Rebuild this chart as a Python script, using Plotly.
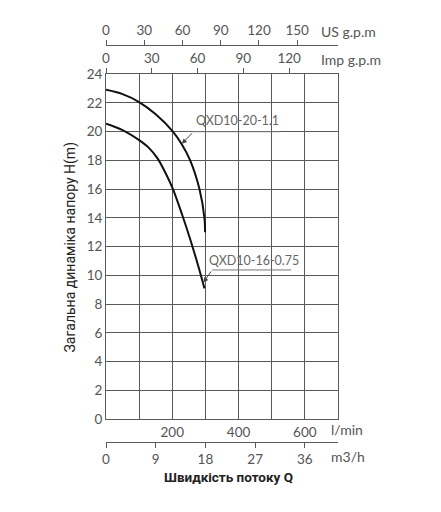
import plotly.graph_objects as go

# Flow in l/min, head in m
q_11 = [0, 50, 100, 150, 202, 229, 254, 282, 297, 299]
h_11 = [22.9, 22.6, 22.05, 21.2, 20.0, 19.1, 18.0, 16.0, 14.0, 13.0]
q_075 = [0, 50, 100, 130, 155, 180, 202, 230, 255, 279, 297]
h_075 = [20.55, 20.1, 19.4, 18.85, 18.15, 17.1, 16.0, 14.2, 12.45, 10.6, 9.1]

names = ["QXD10-20-1.1", "QXD10-16-0.75"]

lmin_ticks = [100, 200, 300, 400, 500, 600]
lmin_text = ["", "200", "", "400", "", "600"]
m3h_ticks = [0, 9, 18, 27, 36]
us_ticks = [0, 30, 60, 90, 120, 150]
imp_ticks = [0, 30, 60, 90, 120]
h_ticks = list(range(0, 25, 2))

FONT = "Lato"
TICKC = "#555555"
GRID = "#5a5a5a"

fig = go.Figure()
fig.add_trace(go.Scatter(x=q_11, y=h_11, mode="lines", name=names[0],
                         line=dict(color="#111111", width=2, shape="spline"),
                         showlegend=False))
fig.add_trace(go.Scatter(x=q_075, y=h_075, mode="lines", name=names[1],
                         line=dict(color="#111111", width=2, shape="spline"),
                         showlegend=False))
# dummy traces to materialise secondary axes
for ax in ["x2", "x3", "x4"]:
    fig.add_trace(go.Scatter(x=[0], y=[None], xaxis=ax, yaxis="y",
                             mode="markers", showlegend=False, hoverinfo="skip"))

tickfont = dict(family=FONT, size=13.5, color=TICKC)
ydom = [(442 - 419.3) / 397, (442 - 74) / 397]

fig.update_layout(
    width=433, height=504,
    margin=dict(l=98, r=103, t=37, b=70),
    paper_bgcolor="white", plot_bgcolor="white",
    xaxis=dict(range=[0, 700], tickvals=lmin_ticks, ticktext=lmin_text,
               showgrid=True, gridcolor=GRID, gridwidth=1,
               showline=True, linecolor=GRID, linewidth=1, mirror=True,
               ticks="", zeroline=False, tickfont=tickfont, anchor="y"),
    yaxis=dict(range=[0, 24], tickvals=h_ticks, domain=ydom,
               showgrid=True, gridcolor=GRID, gridwidth=1,
               showline=True, linecolor=GRID, linewidth=1, mirror=True,
               ticks="", zeroline=False, tickfont=tickfont),
    xaxis2=dict(range=[0, 42], tickvals=m3h_ticks, overlaying="x",
                anchor="free", position=0, side="bottom",
                showgrid=False, showline=True, linecolor=GRID, linewidth=1,
                ticks="outside", ticklen=5, tickcolor=GRID, zeroline=False,
                tickfont=tickfont),
    xaxis3=dict(range=[0, 182], tickvals=us_ticks, overlaying="x",
                anchor="free", position=1, side="top",
                showgrid=False, showline=True, linecolor=GRID, linewidth=1,
                ticks="outside", ticklen=5, tickcolor=GRID, zeroline=False,
                tickfont=tickfont),
    xaxis4=dict(range=[0, 152], tickvals=imp_ticks, overlaying="x",
                anchor="y", side="top",
                showgrid=False, showline=False,
                ticks="outside", ticklen=5, tickcolor=GRID, zeroline=False,
                tickfont=tickfont),
)

ann = []
unit = dict(family=FONT, size=14, color=TICKC)
ann.append(dict(text="US g.p.m", x=(319 - 106) / 232, y=(442 - 31) / 397,
                xref="paper", yref="paper", xanchor="left", yanchor="middle",
                showarrow=False, font=unit))
ann.append(dict(text="Imp g.p.m", x=(319 - 106) / 232, y=(442 - 60) / 397,
                xref="paper", yref="paper", xanchor="left", yanchor="middle",
                showarrow=False, font=unit))
ann.append(dict(text="l/min", x=(329 - 106) / 232, y=(442 - 429) / 397,
                xref="paper", yref="paper", xanchor="left", yanchor="middle",
                showarrow=False, font=unit))
ann.append(dict(text="m3/h", x=(329 - 106) / 232, y=(442 - 456) / 397,
                xref="paper", yref="paper", xanchor="left", yanchor="middle",
                showarrow=False, font=unit))
ann.append(dict(text="Загальна динаміка напору H(m)", x=(70 - 106) / 232,
                y=(442 - 247.5) / 397, xref="paper", yref="paper",
                xanchor="center", yanchor="middle", textangle=-90,
                showarrow=False, font=dict(family="Roboto", size=14, color="#222222")))
ann.append(dict(text="<b>Швидкість потоку Q</b>", x=(228.3 - 106) / 232,
                y=(442 - 477) / 397, xref="paper", yref="paper",
                xanchor="center", yanchor="middle",
                showarrow=False, font=dict(family="Roboto", size=13.5, color="#222222")))

# curve labels
lab = dict(family=FONT, size=12.5, color="#666666")
ann.append(dict(text=names[0], x=398, y=20.75, xref="x", yref="y",
                xanchor="center", yanchor="middle", showarrow=False, font=lab))
ann.append(dict(text=names[1], x=446, y=11.05, xref="x", yref="y",
                xanchor="center", yanchor="middle", showarrow=False, font=lab))
ann.append(dict(text="", x=229, y=19.15, ax=264, ay=19.99, xref="x", yref="y",
                axref="x", ayref="y", showarrow=True, arrowhead=2, arrowsize=1,
                arrowwidth=1, arrowcolor="#444444"))
ann.append(dict(text="", x=294, y=9.5, ax=320, ay=10.38, xref="x", yref="y",
                axref="x", ayref="y", showarrow=True, arrowhead=2, arrowsize=1,
                arrowwidth=1, arrowcolor="#444444"))
fig.update_layout(annotations=ann)

fig.add_shape(type="line", x0=264, x1=526, y0=19.99, y1=19.99, xref="x", yref="y",
              line=dict(color="#777777", width=1))
fig.add_shape(type="line", x0=320, x1=559, y0=10.38, y1=10.38, xref="x", yref="y",
              line=dict(color="#777777", width=1))

fig.write_html("out.html")
